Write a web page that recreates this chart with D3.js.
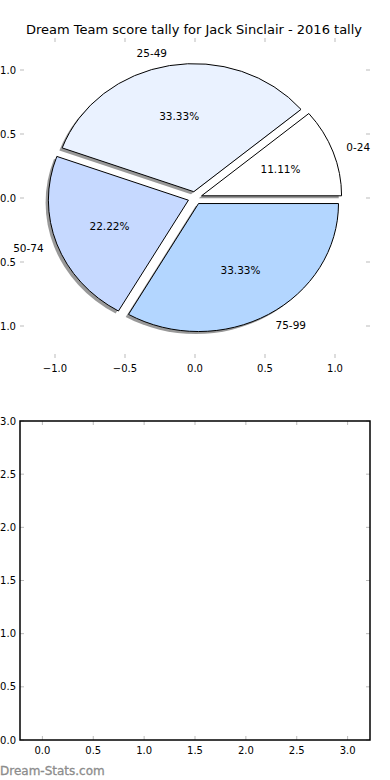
<!DOCTYPE html>
<html>
<head>
<meta charset="utf-8">
<script src="https://cdn.jsdelivr.net/npm/d3@7"></script>
<style>
  body { margin: 0; background: #fff; }
  svg { display: block; font-family: "DejaVu Sans", sans-serif; }
</style>
</head>
<body>
<div id="chart"></div>
<script>
// donnees
const categories = ["0-24", "25-49", "50-74", "75-99"];
const counts = [1, 3, 2, 3];
const colors = ["#ffffff", "#eaf2ff", "#c6d9ff", "#b3d6ff"];
const pieTicks = [-1, -0.5, 0, 0.5, 1];
const barXTicks = [0, 0.5, 1, 1.5, 2, 2.5, 3];
const barYTicks = [0, 0.5, 1, 1.5, 2, 2.5, 3];
const title = "Dream Team score tally for Jack Sinclair - 2016 tally";

const width = 390, height = 780;
const explode = 0.05;
const tickColor = "#bbbbbb";
const fmt = d => d3.format(".1f")(d).replace("-", "\u2212");

const svg = d3.create("svg")
    .attr("width", width)
    .attr("height", height)
    .attr("viewBox", [0, 0, width, height]);

// ---- camembert
const x = d3.scaleLinear([-1.25, 1.25], [20, 370]);
const y = d3.scaleLinear([-1.25, 1.25], [358, 38]);
const kx = x(1) - x(0), ky = y(0) - y(1);

svg.append("text")
    .attr("x", 194).attr("y", 34)
    .attr("text-anchor", "middle")
    .attr("font-size", 13)
    .text(title);

// ticks vers l'interieur, sur les quatre cotes
function ticksIn(g, sx, sy, xt, yt) {
  xt.forEach(v => {
    g.append("line").attr("x1", sx(v)).attr("x2", sx(v)).attr("y1", sy.range()[0]).attr("y2", sy.range()[0] - 4).attr("stroke", tickColor);
    g.append("line").attr("x1", sx(v)).attr("x2", sx(v)).attr("y1", sy.range()[1]).attr("y2", sy.range()[1] + 4).attr("stroke", tickColor);
    g.append("text").attr("x", sx(v)).attr("y", sy.range()[0] + 14).attr("text-anchor", "middle").attr("font-size", 10).text(fmt(v));
  });
  yt.forEach(v => {
    g.append("line").attr("y1", sy(v)).attr("y2", sy(v)).attr("x1", sx.range()[0]).attr("x2", sx.range()[0] + 4).attr("stroke", tickColor);
    g.append("line").attr("y1", sy(v)).attr("y2", sy(v)).attr("x1", sx.range()[1]).attr("x2", sx.range()[1] - 4).attr("stroke", tickColor);
    g.append("text").attr("x", sx.range()[0] - 4).attr("y", sy(v)).attr("dy", "0.35em").attr("text-anchor", "end").attr("font-size", 10).text(fmt(v));
  });
}
ticksIn(svg.append("g"), x, y, pieTicks, pieTicks);

const pie = d3.pie().sort(null).startAngle(Math.PI / 2).endAngle(Math.PI / 2 - 2 * Math.PI);
const arcs = pie(counts);
const arc = d3.arc().innerRadius(0).outerRadius(1);
const total = d3.sum(counts);

const wedges = svg.append("g").selectAll("g")
  .data(arcs)
  .join("g")
    .attr("transform", d => {
      const a = (d.startAngle + d.endAngle) / 2;
      return `translate(${x(explode * Math.sin(a))},${y(explode * Math.cos(a))}) scale(${kx},${ky})`;
    });

// ombre
wedges.append("path")
    .attr("d", arc)
    .attr("transform", `translate(${-0.02},${0.02})`)
    .attr("fill", "#333")
    .attr("opacity", 0.5);

wedges.append("path")
    .attr("d", arc)
    .attr("fill", (d, i) => colors[i])
    .attr("stroke", "#000")
    .attr("stroke-width", 1)
    .attr("vector-effect", "non-scaling-stroke");

const labels = svg.append("g").attr("font-size", 10.5);
arcs.forEach((d, i) => {
  const a = (d.startAngle + d.endAngle) / 2;
  const cx = explode * Math.sin(a), cy = explode * Math.cos(a);
  const lx = cx + 1.1 * Math.sin(a), ly = cy + 1.1 * Math.cos(a);
  labels.append("text")
      .attr("x", x(lx)).attr("y", y(ly)).attr("dy", "0.35em")
      .attr("text-anchor", lx > 0 ? "start" : "end")
      .text(categories[i]);
  const px = cx + 0.6 * Math.sin(a), py = cy + 0.6 * Math.cos(a);
  labels.append("text")
      .attr("x", x(px)).attr("y", y(py)).attr("dy", "0.35em")
      .attr("text-anchor", "middle")
      .text(d3.format(".2f")(counts[i] / total * 100) + "%");
});

// ---- axes vides du bas
const x2 = d3.scaleLinear([-0.22, 3.22], [20, 370]);
const y2 = d3.scaleLinear([0, 3], [740, 421]);
const g2 = svg.append("g");
ticksIn(g2, x2, y2, barXTicks, barYTicks);
g2.append("rect")
    .attr("x", 20).attr("y", 421)
    .attr("width", 350).attr("height", 319)
    .attr("fill", "none")
    .attr("stroke", "#000")
    .attr("stroke-width", 1.5);

svg.append("text")
    .attr("x", 0).attr("y", 775)
    .attr("font-size", 12)
    .attr("fill", "#8c8c8c")
    .attr("stroke", "#8c8c8c")
    .attr("stroke-width", 0.3)
    .text("Dream-Stats.com");

document.getElementById("chart").appendChild(svg.node());
</script>
</body>
</html>
